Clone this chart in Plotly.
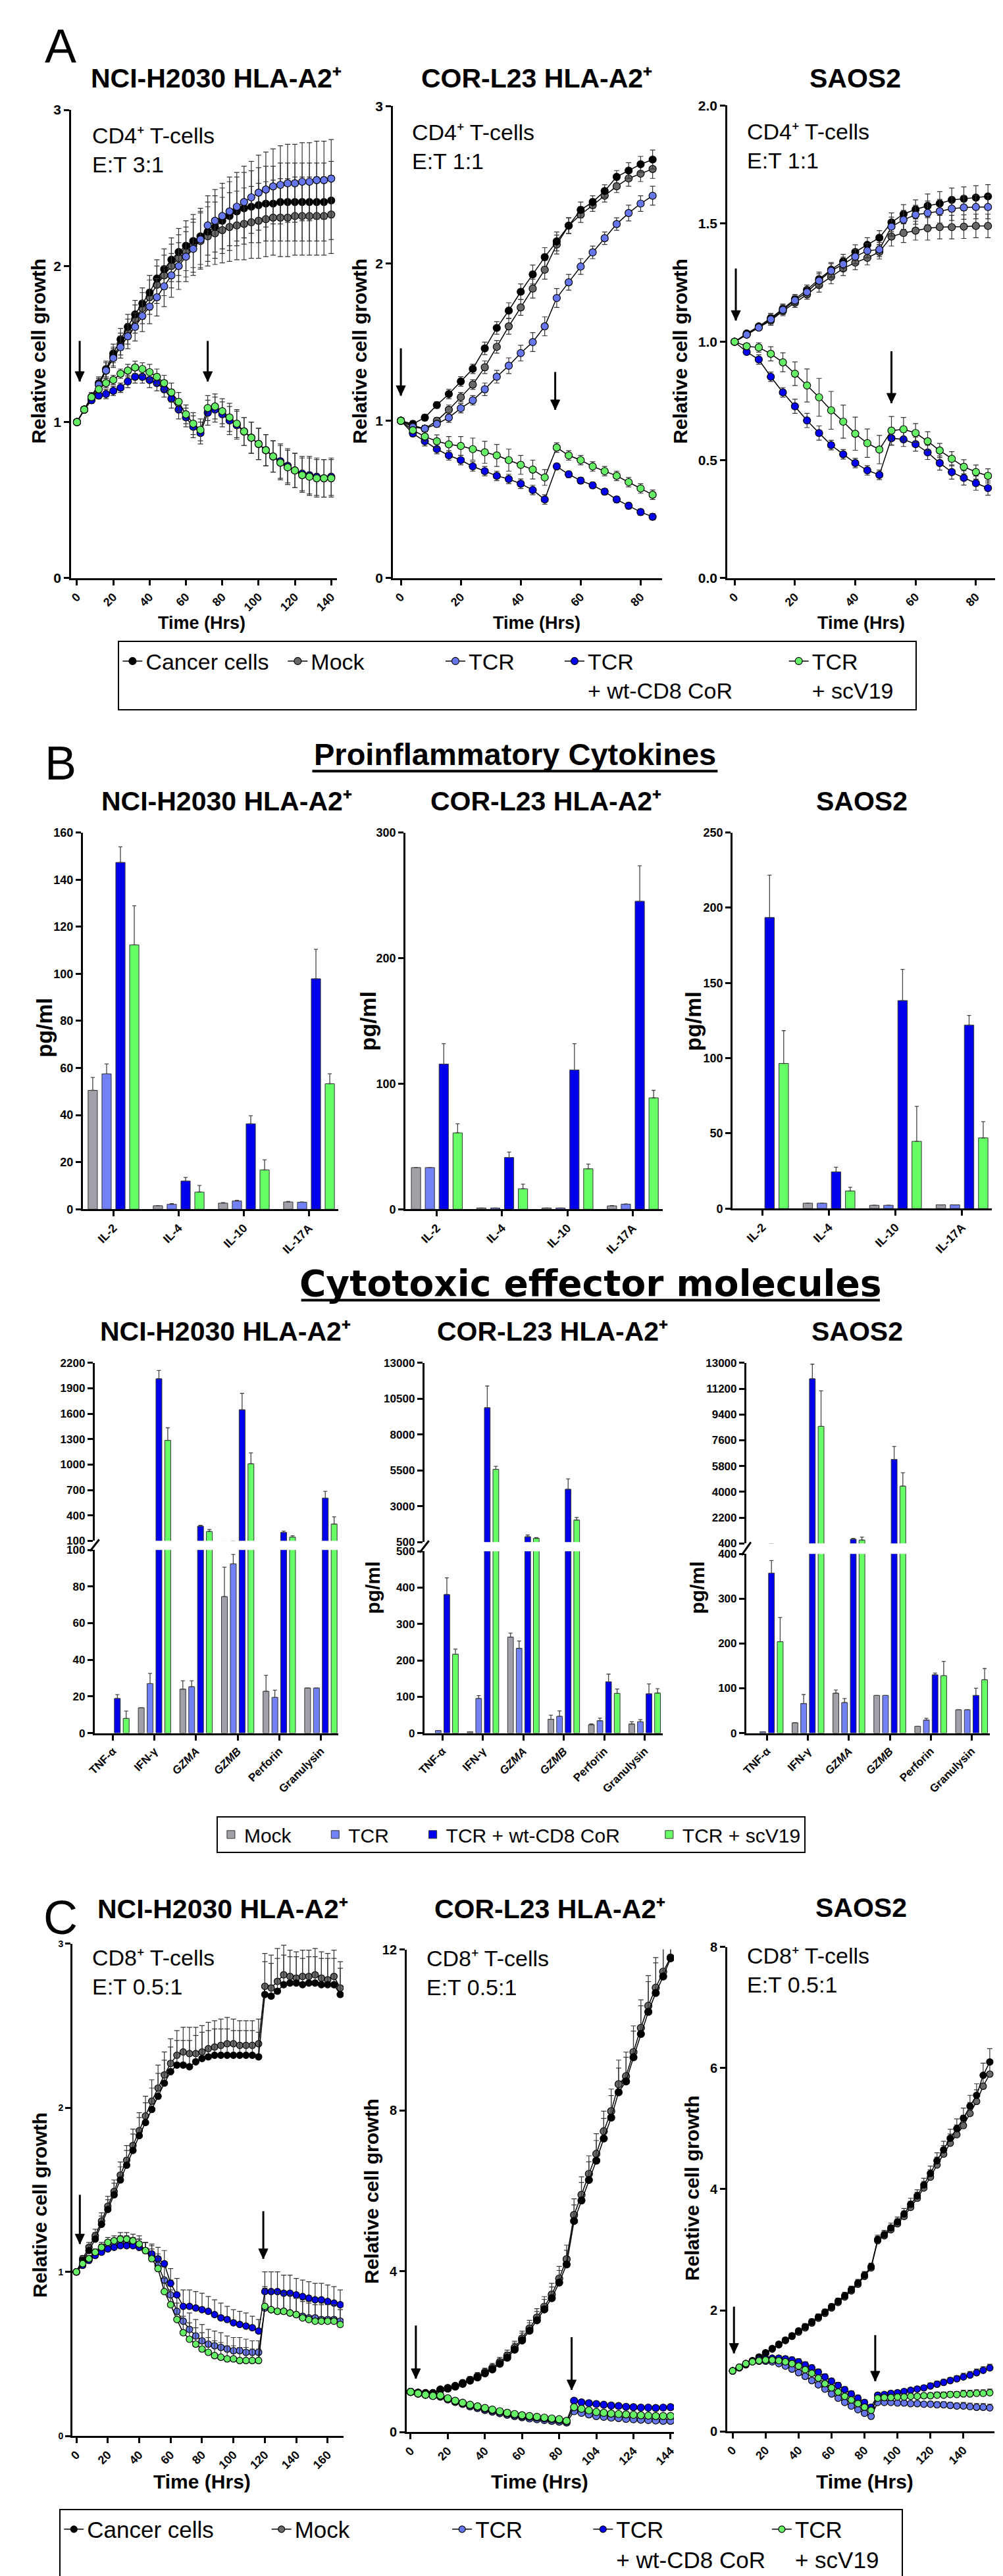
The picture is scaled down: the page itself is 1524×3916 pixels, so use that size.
import plotly.graph_objects as go

W, H = 1524, 3916
FONT = "Liberation Sans, Arial, Helvetica, sans-serif"
WIDE = "DejaVu Sans, Verdana, sans-serif"
NB = "\u00a0"
SUP_PLUS = "\u207a"

# ------------------------------------------------------------------ DATA
series_keys = ["mock", "cancer", "tcr", "wt", "sc"]

# ---- Panel A (CD4+ T cells), time in hours
t_a1 = [0, 4, 8, 12, 16, 20, 24, 28, 32, 36, 40, 44, 48, 52, 56, 60, 64, 68,
        72, 76, 80, 84, 88, 92, 96, 100, 104, 108, 112, 116, 120, 124, 128, 132, 136, 140]
a1_cancer = [1.00, 1.08, 1.16, 1.25, 1.34, 1.44, 1.53, 1.61, 1.69, 1.76, 1.83, 1.92, 1.98, 2.04, 2.09, 2.13, 2.16, 2.19,
             2.22, 2.25, 2.29, 2.32, 2.35, 2.37, 2.38, 2.39, 2.40, 2.40, 2.41, 2.41, 2.41, 2.41, 2.41, 2.41, 2.41, 2.42]
a1_mock = [1.00, 1.08, 1.16, 1.24, 1.33, 1.42, 1.50, 1.58, 1.66, 1.73, 1.80, 1.88, 1.94, 2.00, 2.05, 2.09, 2.13, 2.16,
           2.19, 2.21, 2.23, 2.25, 2.26, 2.27, 2.28, 2.29, 2.30, 2.31, 2.31, 2.31, 2.32, 2.32, 2.32, 2.32, 2.32, 2.33]
a1_tcr = [1.00, 1.08, 1.16, 1.24, 1.33, 1.41, 1.48, 1.55, 1.61, 1.68, 1.74, 1.80, 1.87, 1.94, 2.00, 2.06, 2.11, 2.17,
          2.26, 2.29, 2.32, 2.35, 2.38, 2.41, 2.44, 2.47, 2.49, 2.51, 2.52, 2.53, 2.53, 2.54, 2.54, 2.55, 2.55, 2.56]
a1_wt = [1.00, 1.08, 1.14, 1.17, 1.18, 1.20, 1.22, 1.26, 1.29, 1.29, 1.27, 1.25, 1.21, 1.15, 1.08, 1.03, 0.97, 0.93,
         1.06, 1.08, 1.05, 1.01, 0.98, 0.94, 0.90, 0.86, 0.82, 0.78, 0.75, 0.72, 0.69, 0.67, 0.66, 0.65, 0.64, 0.65]
a1_sc = [1.00, 1.08, 1.16, 1.21, 1.25, 1.27, 1.31, 1.33, 1.35, 1.34, 1.32, 1.29, 1.25, 1.19, 1.13, 1.05, 0.99, 0.95,
         1.09, 1.10, 1.07, 1.03, 0.99, 0.94, 0.90, 0.86, 0.82, 0.78, 0.74, 0.71, 0.69, 0.66, 0.65, 0.64, 0.64, 0.64]
err_a1_up = [0.00, 0.02, 0.03, 0.04, 0.05, 0.06, 0.07, 0.08, 0.09, 0.10, 0.11, 0.12, 0.13, 0.14, 0.15, 0.16, 0.17, 0.18,
             0.19, 0.20, 0.21, 0.22, 0.22, 0.23, 0.23, 0.24, 0.24, 0.24, 0.25, 0.25, 0.25, 0.25, 0.25, 0.25, 0.25, 0.25]
err_a1_lo = [0.00, 0.01, 0.02, 0.02, 0.03, 0.03, 0.03, 0.04, 0.04, 0.04, 0.05, 0.05, 0.05, 0.06, 0.06, 0.06, 0.07, 0.07,
             0.08, 0.08, 0.08, 0.09, 0.09, 0.09, 0.10, 0.10, 0.10, 0.10, 0.11, 0.11, 0.11, 0.11, 0.12, 0.12, 0.12, 0.12]

t_a23 = [0, 4, 8, 12, 16, 20, 24, 28, 32, 36, 40, 44, 48, 52, 56, 60, 64, 68, 72, 76, 80, 84]
a2_cancer = [1.00, 0.98, 1.02, 1.10, 1.17, 1.25, 1.33, 1.46, 1.59, 1.70, 1.82, 1.93, 2.04, 2.14, 2.24, 2.34, 2.39,
             2.46, 2.55, 2.59, 2.63, 2.66]
a2_mock = [1.00, 0.97, 0.95, 1.00, 1.07, 1.15, 1.23, 1.34, 1.47, 1.60, 1.72, 1.84, 1.96, 2.12, 2.24, 2.31, 2.37,
           2.43, 2.49, 2.54, 2.57, 2.60]
a2_tcr = [1.00, 0.96, 0.95, 0.98, 1.02, 1.08, 1.13, 1.20, 1.28, 1.35, 1.43, 1.50, 1.60, 1.78, 1.88, 1.98, 2.07,
          2.16, 2.25, 2.32, 2.38, 2.43]
a2_wt = [1.00, 0.92, 0.87, 0.82, 0.78, 0.75, 0.71, 0.68, 0.65, 0.63, 0.60, 0.56, 0.50, 0.71, 0.66, 0.62, 0.59,
         0.55, 0.50, 0.46, 0.42, 0.39]
a2_sc = [1.00, 0.94, 0.90, 0.87, 0.85, 0.84, 0.82, 0.80, 0.78, 0.75, 0.72, 0.69, 0.64, 0.83, 0.78, 0.75, 0.71,
         0.68, 0.65, 0.61, 0.57, 0.53]
err_a2_up = [0.00, 0.02, 0.02, 0.02, 0.03, 0.03, 0.03, 0.04, 0.04, 0.05, 0.05, 0.06, 0.06, 0.06, 0.05, 0.05, 0.04,
             0.04, 0.04, 0.05, 0.05, 0.06]
err_a2_wt = [0.00, 0.02, 0.03, 0.03, 0.03, 0.03, 0.03, 0.03, 0.03, 0.03, 0.03, 0.03, 0.03, 0.02, 0.02, 0.02, 0.02,
             0.02, 0.02, 0.02, 0.02, 0.02]
err_a2_sc = [0.00, 0.02, 0.03, 0.04, 0.05, 0.06, 0.07, 0.07, 0.07, 0.07, 0.06, 0.06, 0.05, 0.03, 0.03, 0.03, 0.03,
             0.03, 0.03, 0.03, 0.03, 0.03]

a3_cancer = [1.00, 1.035, 1.065, 1.10, 1.14, 1.18, 1.22, 1.265, 1.305, 1.34, 1.38, 1.41, 1.44, 1.505, 1.54, 1.56,
             1.575, 1.585, 1.60, 1.605, 1.61, 1.615]
a3_mock = [1.00, 1.03, 1.06, 1.09, 1.13, 1.165, 1.20, 1.24, 1.275, 1.31, 1.335, 1.355, 1.38, 1.445, 1.46, 1.47,
           1.48, 1.485, 1.485, 1.487, 1.49, 1.49]
a3_tcr = [1.00, 1.03, 1.06, 1.095, 1.135, 1.175, 1.21, 1.258, 1.30, 1.328, 1.36, 1.385, 1.39, 1.487, 1.516, 1.537,
          1.545, 1.552, 1.563, 1.568, 1.57, 1.57]
a3_wt = [1.00, 0.957, 0.925, 0.852, 0.786, 0.727, 0.667, 0.614, 0.563, 0.524, 0.487, 0.456, 0.437, 0.592, 0.587,
         0.567, 0.532, 0.487, 0.449, 0.424, 0.402, 0.381]
a3_sc = [1.00, 0.981, 0.976, 0.949, 0.913, 0.865, 0.815, 0.765, 0.71, 0.662, 0.611, 0.571, 0.544, 0.624, 0.63,
         0.614, 0.579, 0.54, 0.505, 0.471, 0.449, 0.433]
err_a3_up = [0.00, 0.01, 0.01, 0.02, 0.02, 0.02, 0.02, 0.03, 0.03, 0.03, 0.03, 0.03, 0.03, 0.04, 0.04, 0.04, 0.05,
             0.05, 0.05, 0.05, 0.05, 0.05]
err_a3_wt = [0.00, 0.01, 0.02, 0.02, 0.02, 0.03, 0.03, 0.03, 0.02, 0.02, 0.02, 0.02, 0.02, 0.03, 0.03, 0.03, 0.03,
             0.03, 0.03, 0.03, 0.03, 0.03]
err_a3_sc = [0.00, 0.01, 0.02, 0.03, 0.04, 0.05, 0.07, 0.08, 0.08, 0.07, 0.07, 0.06, 0.06, 0.06, 0.05, 0.04, 0.04,
             0.03, 0.03, 0.03, 0.03, 0.03]

# ---- Panel B, cytokines (pg/ml)
cyto_cats = ["IL-2", "IL-4", "IL-10", "IL-17A"]
b1_mock = [50.5, 1.5, 2.6, 3.1]
b1_tcr = [57.5, 2.1, 3.5, 3.0]
b1_wt = [147.3, 12.0, 36.3, 97.9]
b1_sc = [112.3, 7.3, 16.7, 53.3]
b1_mock_err = [5.5, 0, 0.2, 0.2]
b1_tcr_err = [4.2, 0.3, 0.3, 0.1]
b1_wt_err = [6.6, 1.5, 3.4, 12.5]
b1_sc_err = [16.6, 2.8, 4.3, 4.2]

b2_mock = [33.2, 1.0, 1.0, 2.7]
b2_tcr = [33.2, 1.0, 1.0, 4.0]
b2_wt = [115.6, 41.2, 110.9, 245.3]
b2_sc = [60.8, 16.3, 32.2, 88.7]
b2_mock_err = [0, 0, 0, 0.3]
b2_tcr_err = [0, 0, 0, 0.3]
b2_wt_err = [16.2, 4.3, 20.9, 28.3]
b2_sc_err = [7.2, 3.7, 3.8, 6.0]

b3_mock = [None, 3.6, 2.2, 2.5]
b3_tcr = [None, 3.6, 2.2, 2.5]
b3_wt = [193.5, 24.4, 138.3, 122.0]
b3_sc = [96.5, 11.7, 44.7, 47.0]
b3_mock_err = [0, 0, 0, 0]
b3_tcr_err = [0, 0, 0, 0]
b3_wt_err = [28.2, 3.1, 20.7, 6.4]
b3_sc_err = [21.8, 2.5, 23.3, 10.8]

# ---- Panel B, cytotoxic effector molecules (pg/ml)
cytox_cats = ["TNF-α", "IFN-γ", "<i>GZMA</i>", "<i>GZMB</i>", "Perforin", "Granulysin"]
b4_mock = [None, 13.8, 24.0, 74.5, 22.8, 24.6]
b4_tcr = [None, 27.0, 25.3, 92.4, 19.5, 24.6]
b4_wt = [18.9, 2013, 273, 1647, 199, 604]
b4_sc = [8.0, 1286, 209, 1009, 144, 298]
b4_mock_err = [0, 0, 4.5, 16.1, 8.7, 0]
b4_tcr_err = [0, 5.6, 3.2, 5.1, 3.9, 0]
b4_wt_err = [2.1, 98, 10, 193, 15, 79]
b4_sc_err = [4.0, 148, 24, 129, 15, 84]

b5_mock = [None, 3.4, 264, 38, 23, 25]
b5_tcr = [7, 95, 233, 46, 34, 31]
b5_wt = [381, 9879, 877, 4188, 141, 108]
b5_sc = [217, 5581, 761, 2039, 109, 110]
b5_mock_err = [0, 0, 11, 11, 2, 6]
b5_tcr_err = [0, 8, 20, 15, 7, 6]
b5_wt_err = [46, 1509, 117, 725, 21, 27]
b5_sc_err = [14, 204, 58, 174, 12, 12]

b6_mock = [None, 23, 89, 84, 15, 52]
b6_tcr = [2.8, 66, 68, 84, 29, 52]
b6_wt = [357, 11894, 692, 6264, 130, 84]
b6_sc = [204, 8568, 633, 4397, 128, 119]
b6_mock_err = [0, 0, 7, 0, 0, 0]
b6_tcr_err = [0, 20, 9, 0, 4, 0]
b6_wt_err = [28, 1021, 58, 904, 4, 16]
b6_sc_err = [54, 2480, 205, 933, 32, 25]

b4_upper_ticks = [100, 400, 700, 1000, 1300, 1600, 1900, 2200]
b4_lower_ticks = [0, 20, 40, 60, 80, 100]
b5_upper_ticks = [500, 3000, 5500, 8000, 10500, 13000]
b5_lower_ticks = [0, 100, 200, 300, 400, 500]
b6_upper_ticks = [400, 2200, 4000, 5800, 7600, 9400, 11200, 13000]
b6_lower_ticks = [0, 100, 200, 300, 400]

# ---- Panel C (CD8+ T cells)
t_c1 = [0, 4, 8, 12, 16, 20, 24, 28, 32, 36, 40, 44, 48, 52, 56, 60, 64, 68, 72, 76, 80, 84, 88, 92, 96, 100,
        104, 108, 112, 116, 120, 124, 128, 132, 136, 140, 144, 148, 152, 156, 160, 164, 168]
c1_cancer = [1.00, 1.07, 1.13, 1.20, 1.29, 1.38, 1.47, 1.56, 1.65, 1.74, 1.83, 1.91, 1.99, 2.07, 2.15, 2.22,
             2.26, 2.26, 2.25, 2.28, 2.30, 2.31, 2.32, 2.32, 2.32, 2.32, 2.32, 2.32, 2.32, 2.31,
             2.69, 2.68, 2.71, 2.75, 2.76, 2.76, 2.75, 2.76, 2.76, 2.75, 2.75, 2.75, 2.69]
c1_mock = [1.00, 1.08, 1.15, 1.22, 1.31, 1.40, 1.49, 1.59, 1.68, 1.77, 1.86, 1.95, 2.04, 2.12, 2.20, 2.27,
           2.32, 2.34, 2.33, 2.33, 2.34, 2.36, 2.37, 2.38, 2.39, 2.39, 2.38, 2.38, 2.38, 2.39,
           2.74, 2.73, 2.77, 2.81, 2.80, 2.79, 2.80, 2.80, 2.81, 2.79, 2.78, 2.80, 2.73]
c1_tcr = [1.00, 1.05, 1.08, 1.11, 1.14, 1.16, 1.17, 1.18, 1.18, 1.17, 1.15, 1.13, 1.10, 1.04,
          0.95, 0.86, 0.76, 0.70, 0.65, 0.61, 0.58, 0.56, 0.55, 0.54, 0.53, 0.52, 0.52, 0.51, 0.51, 0.51,
          0.78, 0.77, 0.76, 0.76, 0.75, 0.74, 0.73, 0.72, 0.72, 0.71, 0.71, 0.71, 0.70]
c1_wt = [1.00, 1.04, 1.07, 1.10, 1.12, 1.14, 1.15, 1.16, 1.16, 1.16, 1.15, 1.13, 1.11, 1.08, 1.05,
         0.93, 0.86, 0.79, 0.79, 0.78, 0.77, 0.76, 0.74, 0.72, 0.71, 0.69, 0.68, 0.67, 0.66, 0.64,
         0.88, 0.88, 0.88, 0.87, 0.87, 0.86, 0.85, 0.84, 0.83, 0.83, 0.82, 0.81, 0.80]
c1_sc = [1.00, 1.05, 1.08, 1.12, 1.15, 1.18, 1.19, 1.20, 1.20, 1.19, 1.17, 1.13,
         1.08, 1.02, 0.88, 0.80, 0.71, 0.63, 0.59, 0.56, 0.53, 0.51, 0.49, 0.48, 0.47, 0.47, 0.46, 0.46, 0.46, 0.46,
         0.79, 0.77, 0.76, 0.76, 0.75, 0.74, 0.72, 0.71, 0.70, 0.70, 0.70, 0.70, 0.68]
err_c1_up = [0.00, 0.02, 0.03, 0.04, 0.05, 0.06, 0.07, 0.08, 0.09, 0.10, 0.11, 0.12, 0.13, 0.14, 0.14, 0.15,
             0.15, 0.15, 0.16, 0.16, 0.16, 0.16, 0.16, 0.16, 0.16, 0.15, 0.15, 0.15, 0.15, 0.15,
             0.20, 0.20, 0.20, 0.18, 0.16, 0.16, 0.16, 0.16, 0.16, 0.16, 0.16, 0.16, 0.16]
err_c1_lo = [0.00, 0.01, 0.02, 0.02, 0.03, 0.03, 0.03, 0.04, 0.04, 0.04, 0.05, 0.05, 0.06, 0.07, 0.08, 0.09,
             0.10, 0.10, 0.10, 0.10, 0.10, 0.09, 0.09, 0.09, 0.08, 0.08, 0.08, 0.08, 0.07, 0.07,
             0.12, 0.12, 0.12, 0.11, 0.11, 0.10, 0.10, 0.10, 0.10, 0.10, 0.10, 0.10, 0.09]

t_c2 = [0, 4, 8, 12, 16, 20, 24, 28, 32, 36, 40, 44, 48, 52, 56, 60, 64, 68, 72, 76, 80, 84, 88, 92, 96, 100,
        104, 108, 112, 116, 120, 124, 128, 132, 136, 140]
c2_tick_labels = ["0", "20", "40", "60", "80", "104", "124", "144"]
c2_cancer = [1.00, 0.98, 0.97, 0.97, 1.05, 1.08, 1.13, 1.20, 1.28, 1.36, 1.46, 1.56, 1.70, 1.85, 2.05, 2.28, 2.52,
             2.78, 3.05, 3.33, 3.72, 4.17, 5.25, 5.76, 6.27, 6.75, 7.30, 7.82, 8.45, 8.72, 9.32, 9.90, 10.45,
             10.92, 11.33, 11.78]
c2_mock = [1.00, 0.98, 0.97, 0.97, 1.06, 1.10, 1.15, 1.22, 1.30, 1.39, 1.49, 1.60, 1.74, 1.90, 2.10, 2.33, 2.58,
           2.85, 3.12, 3.42, 3.82, 4.30, 5.40, 5.90, 6.42, 6.92, 7.48, 7.98, 8.65, 8.85, 9.45, 10.05, 10.60,
           11.05, 11.45, 11.80]
c2_tcr = [1.00, 0.96, 0.93, 0.90, 0.88, 0.81, 0.75, 0.70, 0.64, 0.60, 0.55, 0.51, 0.47, 0.43, 0.40, 0.37, 0.34,
          0.32, 0.30, 0.28, 0.26, 0.24, 0.52, 0.48, 0.44, 0.40, 0.38, 0.36, 0.35, 0.33, 0.32, 0.31, 0.30, 0.29,
          0.28, 0.28]
c2_wt = [1.00, 0.96, 0.93, 0.90, 0.90, 0.83, 0.77, 0.72, 0.67, 0.63, 0.58, 0.54, 0.50, 0.46, 0.43, 0.40, 0.38,
         0.36, 0.34, 0.32, 0.30, 0.27, 0.78, 0.74, 0.72, 0.70, 0.68, 0.66, 0.65, 0.63, 0.62, 0.61, 0.61, 0.60,
         0.61, 0.62]
c2_sc = [1.00, 0.96, 0.93, 0.90, 0.91, 0.84, 0.78, 0.73, 0.68, 0.64, 0.60, 0.56, 0.52, 0.48, 0.45, 0.42, 0.40,
         0.38, 0.36, 0.34, 0.32, 0.28, 0.62, 0.58, 0.54, 0.50, 0.48, 0.46, 0.45, 0.44, 0.43, 0.42, 0.41, 0.40,
         0.40, 0.40]
err_c2_up = [0.00, 0.05, 0.05, 0.05, 0.05, 0.06, 0.06, 0.07, 0.08, 0.09, 0.10, 0.11, 0.12, 0.14, 0.16, 0.18, 0.20,
             0.22, 0.25, 0.28, 0.30, 0.35, 0.40, 0.45, 0.45, 0.50, 0.50, 0.55, 0.60, 0.60, 0.65, 0.70, 0.75, 0.75,
             0.80, 0.80]
err_c2_lo = [0.00, 0.02, 0.02, 0.02, 0.03, 0.03, 0.03, 0.03, 0.04, 0.04, 0.04, 0.04, 0.04, 0.04, 0.04, 0.04, 0.04,
             0.04, 0.04, 0.04, 0.04, 0.04, 0.06, 0.06, 0.06, 0.06, 0.06, 0.06, 0.06, 0.06, 0.06, 0.06, 0.06, 0.06,
             0.06, 0.06]

t_c3 = [0, 4, 8, 12, 16, 20, 24, 28, 32, 36, 40, 44, 48, 52, 56, 60, 64, 68, 72, 76, 80, 84, 88, 92, 96, 100,
        104, 108, 112, 116, 120, 124, 128, 132, 136, 140, 144, 148, 152, 156]
c3_cancer = [1.00, 1.05, 1.11, 1.17, 1.23, 1.30, 1.37, 1.44, 1.51, 1.58, 1.66, 1.73, 1.81, 1.89, 1.97, 2.06, 2.15,
             2.24, 2.34, 2.45, 2.58, 2.72, 3.17, 3.25, 3.36, 3.46, 3.59, 3.75, 3.89, 4.07, 4.26, 4.47, 4.65, 4.84,
             5.00, 5.17, 5.37, 5.55, 5.88, 6.10]
c3_mock = [1.00, 1.05, 1.10, 1.16, 1.22, 1.29, 1.36, 1.43, 1.50, 1.57, 1.64, 1.71, 1.79, 1.87, 1.95, 2.04, 2.13,
           2.22, 2.32, 2.43, 2.56, 2.70, 3.15, 3.23, 3.33, 3.43, 3.55, 3.70, 3.85, 4.02, 4.20, 4.40, 4.58, 4.76,
           4.90, 5.05, 5.25, 5.45, 5.70, 5.90]
c3_tcr = [1.00, 1.06, 1.12, 1.15, 1.16, 1.16, 1.15, 1.12, 1.08, 1.03, 0.97, 0.91, 0.84, 0.77, 0.70, 0.62, 0.55,
          0.48, 0.42, 0.36, 0.30, 0.25, 0.48, 0.48, 0.48, 0.47, 0.47, 0.46, 0.46, 0.45, 0.45, 0.44, 0.44, 0.43,
          0.42, 0.42, 0.41, 0.40, 0.40, 0.39]
c3_wt = [1.00, 1.06, 1.12, 1.16, 1.19, 1.20, 1.21, 1.21, 1.20, 1.18, 1.15, 1.10, 1.05, 0.98, 0.90, 0.83, 0.76,
         0.69, 0.62, 0.55, 0.48, 0.40, 0.60, 0.61, 0.63, 0.64, 0.66, 0.68, 0.70, 0.72, 0.75, 0.78, 0.81, 0.84,
         0.87, 0.90, 0.93, 0.97, 1.01, 1.05]
c3_sc = [1.00, 1.06, 1.12, 1.15, 1.17, 1.18, 1.18, 1.17, 1.15, 1.12, 1.08, 1.02, 0.96, 0.88, 0.79, 0.72, 0.65,
         0.58, 0.52, 0.46, 0.40, 0.35, 0.55, 0.56, 0.56, 0.57, 0.57, 0.58, 0.58, 0.59, 0.59, 0.60, 0.60, 0.61,
         0.61, 0.62, 0.62, 0.63, 0.63, 0.64]
err_c3_up = [0.00, 0.02, 0.02, 0.03, 0.03, 0.03, 0.03, 0.04, 0.04, 0.04, 0.04, 0.05, 0.05, 0.05, 0.05, 0.05, 0.05,
             0.06, 0.06, 0.06, 0.06, 0.06, 0.07, 0.07, 0.08, 0.08, 0.09, 0.10, 0.10, 0.11, 0.12, 0.13, 0.14, 0.15,
             0.16, 0.17, 0.18, 0.19, 0.20, 0.22]
err_c3_lo = [0.00, 0.01, 0.02, 0.02, 0.03, 0.03, 0.03, 0.04, 0.04, 0.05, 0.05, 0.05, 0.05, 0.05, 0.05, 0.05, 0.05,
             0.05, 0.05, 0.05, 0.04, 0.04, 0.04, 0.04, 0.04, 0.04, 0.04, 0.04, 0.04, 0.04, 0.05, 0.05, 0.05, 0.05,
             0.05, 0.06, 0.06, 0.06, 0.06, 0.06]

# arrows (treatment additions): (time, arrow start y, arrow tip y)
arrows_a1 = [(1.5, 1.52, 1.26), (72, 1.52, 1.26)]
arrows_a2 = [(0, 1.46, 1.16), (51.5, 1.31, 1.07)]
arrows_a3 = [(0.4, 1.31, 1.09), (52, 0.96, 0.74)]
arrows_c1 = [(2.2, 1.47, 1.17), (119, 1.37, 1.08)]
arrows_c2 = [(2.8, 2.65, 1.33), (86.7, 2.36, 1.05)]
arrows_c3 = [(0.8, 2.06, 1.29), (86.5, 1.59, 0.83)]

# ------------------------------------------------------------------ STYLE
LINE_COL = {"cancer": "#000000", "mock": "#686868", "tcr": "#6677ee", "wt": "#0000ee", "sc": "#66f066"}
BAR_COL = {"mock": "#a0a0a8", "tcr": "#7282f6", "wt": "#0000ee", "sc": "#66ff66"}
RANK = {"cancer": 1, "mock": 2, "tcr": 3, "wt": 4, "sc": 5}
NAMES_A = {"cancer": "Cancer cells" + NB * 2, "mock": "Mock" + NB * 12, "tcr": "TCR" + NB * 7,
           "wt": "TCR<br>+ wt-CD8 CoR" + NB * 8, "sc": "TCR<br>+ scV19" + NB * 3}
NAMES_C = {"cancer": "Cancer cells" + NB * 8, "mock": "Mock" + NB * 15, "tcr": "TCR" + NB * 10,
           "wt": "TCR<br>+ wt-CD8 CoR", "sc": "TCR<br>+ scV19" + NB * 3}
NAMES_B = {"mock": "Mock" + NB * 5, "tcr": "TCR" + NB * 5, "wt": "TCR + wt-CD8 CoR" + NB * 6,
           "sc": "TCR + scV19"}

fig = go.Figure()


def ids(n):
    s = "" if n == 1 else str(n)
    return "xaxis" + s, "yaxis" + s, "x" + s, "y" + s


def tf(size):
    return dict(family=FONT, size=size, color="black", weight="bold")


AX = dict(showline=True, linecolor="black", linewidth=3, ticks="outside", ticklen=8, tickwidth=3,
          tickcolor="black", showgrid=False, zeroline=False, fixedrange=True)


def make_axes(n, x0, x1, yt, yb, xr, yr, xkw, ykw):
    xa, ya, xid, yid = ids(n)
    xd = dict(AX, domain=[x0 / W, x1 / W], anchor=yid, range=xr)
    xd.update(xkw)
    yd = dict(AX, domain=[1 - yb / H, 1 - yt / H], anchor=xid, range=yr)
    yd.update(ykw)
    fig.update_layout({xa: xd, ya: yd})


def add_lines(n, t, ys, errs, up_only, names=None, legend=None, msize=11):
    _, _, xid, yid = ids(n)
    for k in series_keys:
        e = errs[k]
        ey = dict(type="data", array=e, color="#333333", thickness=1.2, width=4)
        if up_only:
            ey.update(symmetric=False, arrayminus=[0] * len(e))
        fig.add_trace(go.Scatter(
            x=t, y=ys[k], mode="lines+markers", xaxis=xid, yaxis=yid,
            line=dict(color="black", width=1.5),
            marker=dict(color=LINE_COL[k], size=msize, line=dict(color="black", width=1.2)),
            error_y=ey, name=(names[k] if names else k), legendrank=RANK[k],
            showlegend=names is not None, legend=legend or "legend", hoverinfo="skip"))


def add_bars(n, cats, vals, errs, names=None, legend=None):
    _, _, xid, yid = ids(n)
    for k in ["mock", "tcr", "wt", "sc"]:
        e = errs[k]
        fig.add_trace(go.Bar(
            x=cats, y=vals[k], xaxis=xid, yaxis=yid,
            marker=dict(color=BAR_COL[k], line=dict(color="#333333", width=1)),
            error_y=dict(type="data", array=e, arrayminus=[0] * len(e), symmetric=False,
                         color="#444444", thickness=1.3, width=3),
            name=(names[k] if names else k), showlegend=names is not None,
            legend=legend or "legend", hoverinfo="skip"))


annotations = []
shapes = []


def text(x, y, s, size, bold=True, family=FONT, angle=0, xanchor="center", yanchor="middle"):
    annotations.append(dict(xref="paper", yref="paper", x=x / W, y=1 - y / H, text=s, showarrow=False,
                            textangle=angle, xanchor=xanchor, yanchor=yanchor,
                            font=dict(family=family, size=size, color="black",
                                      weight="bold" if bold else "normal")))


def add_arrows(n, arrows):
    # shaft: line in data coordinates; head: filled triangle of fixed pixel size anchored at the tip
    _, _, xid, yid = ids(n)
    for (tx, y0, y1) in arrows:
        shapes.append(dict(type="line", xref=xid, yref=yid, x0=tx, x1=tx, y0=y0, y1=y1,
                           line=dict(color="black", width=3)))
        shapes.append(dict(type="path", xref=xid, yref=yid, xsizemode="pixel", ysizemode="pixel",
                           xanchor=tx, yanchor=y1, path="M -7,15 L 7,15 L 0,0 Z",
                           fillcolor="black", line=dict(color="black", width=1)))


def corner_text(n, x, y, s):
    _, _, xid, yid = ids(n)
    annotations.append(dict(xref=xid + " domain", yref=yid + " domain", x=x, y=y, text=s, showarrow=False,
                            xanchor="left", yanchor="top", align="left",
                            font=dict(family=FONT, size=34, color="black")))


T_NCI = "NCI-H2030 HLA-A2" + SUP_PLUS
T_COR = "COR-L23 HLA-A2" + SUP_PLUS
T_SAOS = "SAOS2"

# ------------------------------------------------------------------ PANEL A
XA = dict(tickangle=-45, tickfont=tf(18))
make_axes(1, 90, 498, 148, 864, [-3.2, 143.2], [0, 3],
          dict(XA, tickvals=[0, 20, 40, 60, 80, 100, 120, 140]), dict(tickvals=[0, 1, 2, 3], tickfont=tf(21)))
make_axes(2, 584, 997, 142, 864, [-2.6, 87.2], [0, 3],
          dict(XA, tickvals=[0, 20, 40, 60, 80]), dict(tickvals=[0, 1, 2, 3], tickfont=tf(21)))
make_axes(3, 1097, 1508, 141, 864, [-2.4, 86.4], [0, 2],
          dict(XA, tickvals=[0, 20, 40, 60, 80]),
          dict(tickvals=[0, 0.5, 1, 1.5, 2], ticktext=["0.0", "0.5", "1.0", "1.5", "2.0"], tickfont=tf(21)))

add_lines(1, t_a1, dict(cancer=a1_cancer, mock=a1_mock, tcr=a1_tcr, wt=a1_wt, sc=a1_sc),
          dict(cancer=err_a1_up, mock=err_a1_up, tcr=err_a1_up, wt=err_a1_lo, sc=err_a1_lo), False,
          names=NAMES_A, legend="legend")
add_lines(2, t_a23, dict(cancer=a2_cancer, mock=a2_mock, tcr=a2_tcr, wt=a2_wt, sc=a2_sc),
          dict(cancer=err_a2_up, mock=err_a2_up, tcr=err_a2_up, wt=err_a2_wt, sc=err_a2_sc), False)
add_lines(3, t_a23, dict(cancer=a3_cancer, mock=a3_mock, tcr=a3_tcr, wt=a3_wt, sc=a3_sc),
          dict(cancer=err_a3_up, mock=err_a3_up, tcr=err_a3_up, wt=err_a3_wt, sc=err_a3_sc), False)
add_arrows(1, arrows_a1)
add_arrows(2, arrows_a2)
add_arrows(3, arrows_a3)
corner_text(1, 0.074, 0.975, "CD4" + SUP_PLUS + " T-cells<br>E:T 3:1")
corner_text(2, 0.065, 0.974, "CD4" + SUP_PLUS + " T-cells<br>E:T 1:1")
corner_text(3, 0.068, 0.974, "CD4" + SUP_PLUS + " T-cells<br>E:T 1:1")

text(74, 50, "A", 72, bold=False)
text(313, 100, T_NCI, 41)
text(804, 100, T_COR, 41)
text(1293, 100, T_SAOS, 41)
for cx in (40, 533, 1025):
    text(cx, 517, "Relative cell growth", 30, angle=-90)
for cx in (290, 804, 1302):
    text(cx, 932, "Time (Hrs)", 27)

# ------------------------------------------------------------------ PANEL B (cytokines)
XB = dict(type="category", tickangle=-45, tickfont=tf(18))
make_axes(4, 108, 500, 1253, 1829, [-0.47, 3.45], [0, 160], XB,
          dict(tickvals=[0, 20, 40, 60, 80, 100, 120, 140, 160], tickfont=tf(18)))
make_axes(5, 603, 998, 1253, 1829, [-0.48, 3.46], [0, 300], XB,
          dict(tickvals=[0, 100, 200, 300], tickfont=tf(18)))
make_axes(6, 1105, 1503, 1253, 1828, [-0.45, 3.45], [0, 250], XB,
          dict(tickvals=[0, 50, 100, 150, 200, 250], tickfont=tf(18)))
add_bars(4, cyto_cats, dict(mock=b1_mock, tcr=b1_tcr, wt=b1_wt, sc=b1_sc),
         dict(mock=b1_mock_err, tcr=b1_tcr_err, wt=b1_wt_err, sc=b1_sc_err))
add_bars(5, cyto_cats, dict(mock=b2_mock, tcr=b2_tcr, wt=b2_wt, sc=b2_sc),
         dict(mock=b2_mock_err, tcr=b2_tcr_err, wt=b2_wt_err, sc=b2_sc_err))
add_bars(6, cyto_cats, dict(mock=b3_mock, tcr=b3_tcr, wt=b3_wt, sc=b3_sc),
         dict(mock=b3_mock_err, tcr=b3_tcr_err, wt=b3_wt_err, sc=b3_sc_err))

text(74, 1147, "B", 72, bold=False)
text(771, 1133, "Proinflammatory Cytokines", 47)
shapes.append(dict(type="line", xref="paper", yref="paper", x0=460 / W, x1=1082 / W,
                   y0=1 - 1159 / H, y1=1 - 1159 / H, line=dict(color="black", width=4)))
text(329, 1205, T_NCI, 41)
text(819, 1205, T_COR, 41)
text(1303, 1205, T_SAOS, 41)
text(48, 1551, "pg/ml", 34, angle=-90)
text(545, 1541, "pg/ml", 34, angle=-90)
text(1044, 1541, "pg/ml", 34, angle=-90)

# ------------------------------------------------------------------ PANEL B (cytotoxic, broken axes)
XU = dict(type="category", visible=False)
XL = dict(type="category", tickangle=-45, tickfont=tf(17))


def yticks(vals):
    return dict(tickfont=tf(17), tickvals=vals, ticktext=[str(v) for v in vals])


make_axes(7, 126, 500, 2064, 2336, [-0.44, 5.42], [100, 2200], XU, yticks(b4_upper_ticks))
make_axes(8, 126, 500, 2350, 2630, [-0.44, 5.42], [0, 100], XL, yticks(b4_lower_ticks))
make_axes(9, 632, 998, 2064, 2338, [-0.45, 5.45], [500, 13000], XU, yticks(b5_upper_ticks))
make_axes(10, 632, 998, 2352, 2630, [-0.45, 5.45], [0, 500], XL, yticks(b5_lower_ticks))
make_axes(11, 1126, 1500, 2064, 2340, [-0.51, 5.45], [400, 13000], XU, yticks(b6_upper_ticks))
make_axes(12, 1126, 1500, 2356, 2630, [-0.51, 5.45], [0, 400], XL, yticks(b6_lower_ticks))

b4v = dict(mock=b4_mock, tcr=b4_tcr, wt=b4_wt, sc=b4_sc)
b4e = dict(mock=b4_mock_err, tcr=b4_tcr_err, wt=b4_wt_err, sc=b4_sc_err)
b5v = dict(mock=b5_mock, tcr=b5_tcr, wt=b5_wt, sc=b5_sc)
b5e = dict(mock=b5_mock_err, tcr=b5_tcr_err, wt=b5_wt_err, sc=b5_sc_err)
b6v = dict(mock=b6_mock, tcr=b6_tcr, wt=b6_wt, sc=b6_sc)
b6e = dict(mock=b6_mock_err, tcr=b6_tcr_err, wt=b6_wt_err, sc=b6_sc_err)
add_bars(7, cytox_cats, b4v, b4e)
add_bars(8, cytox_cats, b4v, b4e, names=NAMES_B, legend="legend2")
add_bars(9, cytox_cats, b5v, b5e)
add_bars(10, cytox_cats, b5v, b5e)
add_bars(11, cytox_cats, b6v, b6e)
add_bars(12, cytox_cats, b6v, b6e)

for (axx, ylo, yhi) in ((126, 2350, 2336), (632, 2352, 2338), (1126, 2356, 2340)):
    shapes.append(dict(type="line", xref="paper", yref="paper", x0=(axx - 7) / W, x1=(axx + 7) / W,
                       y0=1 - (ylo + 2) / H, y1=1 - (yhi - 2) / H, line=dict(color="black", width=3)))

text(887, 1942, "Cytotoxic effector molecules", 55, family=WIDE)
shapes.append(dict(type="line", xref="paper", yref="paper", x0=443 / W, x1=1331 / W,
                   y0=1 - 1968 / H, y1=1 - 1968 / H, line=dict(color="black", width=4)))
text(327, 2016, T_NCI, 41)
text(829, 2016, T_COR, 41)
text(1296, 2016, T_SAOS, 41)
text(553, 2408, "pg/ml", 30, angle=-90)
text(1051, 2408, "pg/ml", 30, angle=-90)

# ------------------------------------------------------------------ PANEL C
XC = dict(tickangle=-45, tickfont=tf(18))
make_axes(13, 92, 508, 2952, 3705, [-2.5, 170.1], [0, 3],
          dict(XC, tickvals=[0, 20, 40, 60, 80, 100, 120, 140, 160]), dict(tickvals=[0, 1, 2, 3], tickfont=tf(14)))
make_axes(14, 605, 1015, 2961, 3699, [-2.1, 141.8], [0, 12],
          dict(XC, tickvals=[0, 20, 40, 60, 80, 100, 120, 140], ticktext=c2_tick_labels),
          dict(tickvals=[0, 4, 8, 12], tickfont=tf(20)))
make_axes(15, 1097, 1507, 2957, 3698, [-3.2, 158.9], [0, 8],
          dict(XC, tickvals=[0, 20, 40, 60, 80, 100, 120, 140]), dict(tickvals=[0, 2, 4, 6, 8], tickfont=tf(20)))

add_lines(13, t_c1, dict(cancer=c1_cancer, mock=c1_mock, tcr=c1_tcr, wt=c1_wt, sc=c1_sc),
          dict(cancer=err_c1_up, mock=err_c1_up, tcr=err_c1_lo, wt=err_c1_lo, sc=err_c1_lo), True,
          names=NAMES_C, legend="legend3", msize=10)
add_lines(14, t_c2, dict(cancer=c2_cancer, mock=c2_mock, tcr=c2_tcr, wt=c2_wt, sc=c2_sc),
          dict(cancer=err_c2_up, mock=err_c2_up, tcr=err_c2_lo, wt=err_c2_lo, sc=err_c2_lo), True, msize=11)
add_lines(15, t_c3, dict(cancer=c3_cancer, mock=c3_mock, tcr=c3_tcr, wt=c3_wt, sc=c3_sc),
          dict(cancer=err_c3_up, mock=err_c3_up, tcr=err_c3_lo, wt=err_c3_lo, sc=err_c3_lo), True, msize=10)
add_arrows(13, arrows_c1)
add_arrows(14, arrows_c2)
add_arrows(15, arrows_c3)
corner_text(13, 0.067, 1.0, "CD8" + SUP_PLUS + " T-cells<br>E:T 0.5:1")
corner_text(14, 0.068, 1.01, "CD8" + SUP_PLUS + " T-cells<br>E:T 0.5:1")
corner_text(15, 0.068, 1.01, "CD8" + SUP_PLUS + " T-cells<br>E:T 0.5:1")

text(74, 2912, "C", 72, bold=False)
text(323, 2899, T_NCI, 41)
text(825, 2899, T_COR, 41)
text(1302, 2897, T_SAOS, 41)
text(42, 3352, "Relative cell growth", 30, angle=-90)
text(551, 3331, "Relative cell growth", 30, angle=-90)
text(1043, 3326, "Relative cell growth", 30, angle=-90)
for cx in (291, 809, 1308):
    text(cx, 3775, "Time (Hrs)", 30)

# ------------------------------------------------------------------ LAYOUT
LEG = dict(orientation="h", xanchor="left", yanchor="top", bordercolor="black", borderwidth=2,
           bgcolor="white", valign="top", tracegroupgap=0)
fig.update_layout(
    width=W, height=H, margin=dict(l=0, r=0, t=0, b=0),
    paper_bgcolor="white", plot_bgcolor="white",
    font=dict(family=FONT, color="black"),
    barmode="group", bargap=0.15, bargroupgap=0.33,
    showlegend=True,
    legend=dict(LEG, x=162 / W, y=1 - 960 / H, font=dict(family=FONT, size=34, color="black")),
    legend2=dict(LEG, x=313 / W, y=1 - 2757 / H, font=dict(family=FONT, size=30, color="black"),
                 valign="middle"),
    legend3=dict(LEG, x=72 / W, y=1 - 3816 / H, font=dict(family=FONT, size=35, color="black")),
    annotations=annotations, shapes=shapes,
)

fig.write_html("out.html")
